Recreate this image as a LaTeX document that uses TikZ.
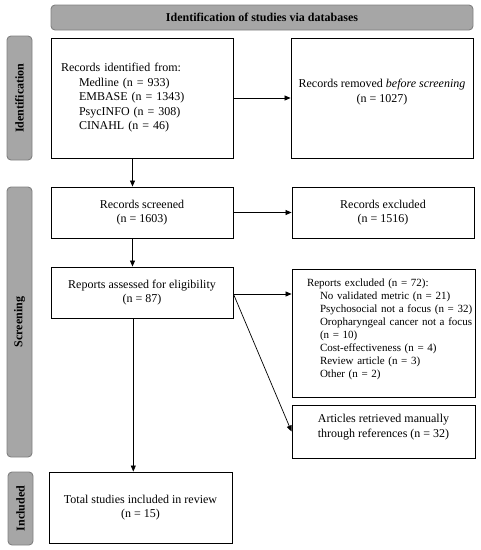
\documentclass[tikz,border=0pt]{standalone}
\usepackage{fontspec}
\setmainfont{Liberation Serif}
\usetikzlibrary{arrows.meta,calc}
\definecolor{phasefill}{HTML}{A6A6A6}
\definecolor{phaseedge}{HTML}{808080}
\tikzset{
  box/.style={draw=black, line width=0.9pt, fill=white, inner sep=0pt,
    font=\fontsize{12}{14.5}\selectfont},
  smallbox/.style={box, font=\fontsize{11}{13}\selectfont},
  phase/.style={draw=phaseedge, fill=phasefill, rounded corners=4pt, line width=0.9pt,
    inner sep=0pt, font=\bfseries\fontsize{12}{14}\selectfont},
  arr/.style={draw=black, line width=0.7pt, -{Triangle[length=6pt,width=5pt]}},
}
\begin{document}
\begin{tikzpicture}[x=1pt,y=-1pt]
\useasboundingbox (0,0) rectangle (481,550);
% phase labels
\node[phase, minimum width=422pt, minimum height=25pt] (banner) at (262,17.5) {Identification of studies via databases};
\node[phase, minimum width=124pt, minimum height=25pt, rotate=90] (pid) at (19.5,98) {Identification};
\node[phase, minimum width=270pt, minimum height=25pt, rotate=90] (pscr) at (19.5,322) {Screening};
\node[phase, minimum width=73pt, minimum height=25pt, rotate=90] (pinc) at (20.5,508.5) {Included};
% boxes
\node[box, minimum width=182pt, minimum height=120pt, text width=162pt, align=left] (b1) at (142,98)
  {Records identified from:\\
   \hspace*{18pt}Medline (n = 933)\\
   \hspace*{18pt}EMBASE (n = 1343)\\
   \hspace*{18pt}PsycINFO (n = 308)\\
   \hspace*{18pt}CINAHL (n = 46)};
\node[box, minimum width=182pt, minimum height=120pt, align=center] (b2) at (382,98)
  {Records removed \emph{before screening}\\(n = 1027)\rule[-14pt]{0pt}{14pt}};
\node[box, minimum width=182pt, minimum height=51pt, align=center] (b3) at (142,212.5)
  {Records screened\\(n = 1603)};
\node[box, minimum width=182pt, minimum height=51pt, align=center] (b4) at (383,212.5)
  {Records excluded\\(n = 1516)};
\node[box, minimum width=182pt, minimum height=51pt, align=center] (b5) at (142,292.5)
  {Reports assessed for eligibility\\(n = 87)};
\node[smallbox, minimum width=183pt, minimum height=128pt, text width=153pt, align=left] (b6) at (383.5,333)
  {\mbox{Reports excluded (n = 72):}\\
   \mbox{\hspace*{13pt}No validated metric (n = 21)}\\
   \mbox{\hspace*{13pt}Psychosocial not a focus (n = 32)}\\
   \mbox{\hspace*{13pt}Oropharyngeal cancer not a focus}\\
   \mbox{\hspace*{13pt}(n = 10)}\\
   \mbox{\hspace*{13pt}Cost-effectiveness (n = 4)}\\
   \mbox{\hspace*{13pt}Review article (n = 3)}\\
   \mbox{\hspace*{13pt}Other (n = 2)}\rule[-9pt]{0pt}{9pt}};
\node[box, minimum width=183pt, minimum height=53pt, align=center] (b7) at (383.5,431.5)
  {Articles retrieved manually\\through references (n = 32)\rule[-11pt]{0pt}{11pt}};
\node[box, minimum width=183pt, minimum height=71pt, align=center] (b8) at (140.5,507.5)
  {Total studies included in review\\(n = 15)};
% connectors
\draw[arr] (b1.east) -- (b2.west);
\coordinate (c1) at ($(b1.south)+(-9.5,0)$);
\draw[arr] (c1) -- (c1 |- b3.north);
\draw[arr] (b3.east) -- (b3.east -| b4.west);
\coordinate (c3) at ($(b3.south)+(-9.5,0)$);
\draw[arr] (c3) -- (c3 |- b5.north);
\coordinate (c5) at ($(b5.east)+(0,1.5)$);
\draw[arr] (c5) -- (c5 -| b6.west);
\draw[arr] (c5) -- (b7.west);
\coordinate (c6) at ($(b5.south)+(-8.7,0)$);
\draw[arr] (c6) -- (c6 |- b8.north);
\end{tikzpicture}
\end{document}
